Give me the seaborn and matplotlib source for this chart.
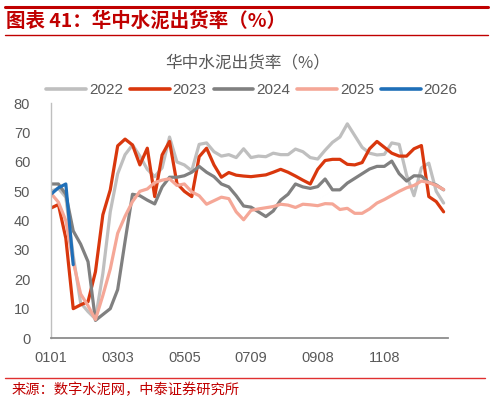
import numpy as np
import pandas as pd
import matplotlib
matplotlib.use("Agg")
import matplotlib.pyplot as plt
from matplotlib.lines import Line2D
import seaborn as sns

# ---------------- data ----------------
tick_labels = ["0101", "0303", "0505", "0709", "0908", "1108"]
years = ["2022", "2023", "2024", "2025", "2026"]

v2022 = [50, 51, 48, 28, 12, 9, 6.5, 22, 43, 56, 62.5, 65.8, 62, 57.5, 55, 58,
         68.5, 60, 59, 57, 66, 66.5, 63.5, 62, 62.5, 61.5, 64.5, 61.5, 62, 61.8,
         63, 62.5, 62.5, 64.4, 63.5, 61.5, 61, 64, 66.7, 68.5, 73, 69, 65, 63,
         62.4, 62.6, 66.5, 66, 55.5, 48.5, 58, 59.6, 50, 46]
v2023 = [44.3, 45.5, 34, 10, 11.3, 12.4, 22.6, 42, 50.5, 65.5, 67.8, 65.8, 59,
         64.7, 48.2, 62.4, 67, 52.7, 50, 48.2, 61.8, 64.7, 59, 54.8, 56.4, 55.5,
         55.2, 55, 55.3, 55.6, 56.5, 57.5, 56.5, 55.2, 53.8, 52.5, 57.5, 60.5,
         60.9, 60.9, 59.2, 59, 59.8, 64.5, 67, 65, 63, 62, 62, 64.5, 65.6, 48.2,
         46.5, 43]
v2024 = [52.5, 52.5, 49, 36.5, 32, 26, 6, 8, 10, 16.5, 33, 49, 48.5, 47, 45.7,
         51.5, 54.8, 54.8, 55.3, 56.5, 58.5, 56.5, 55, 52.5, 51.5, 48.5, 45,
         44.6, 43, 41.4, 43.3, 47, 49, 52.5, 51.5, 51, 51.6, 54.2, 50.5, 50.5,
         52.8, 54.4, 56, 57.6, 58.5, 58.5, 60.3, 56, 53.5, 55.3, 55.2, 53, 52.2,
         50.5]
v2025 = [49.3, 46.3, 40, 26, 15, 11, 6.3, 14.5, 23.5, 35.7, 41.5, 46.5, 50,
         50.8, 53, 53.8, 54.3, 52, 52.5, 49.8, 48.5, 45.6, 46.8, 48, 47.5, 43,
         40.3, 43.5, 44, 44.4, 44.8, 45.6, 45.3, 44.5, 45.6, 45.4, 45.1, 45.8,
         45.7, 43.8, 44.2, 42.5, 42.5, 44, 46, 47.2, 48.6, 50, 51.2, 52, 53.5,
         53, 52, 50.6]
v2026 = [49, 51.2, 52.5, 25]

series = [v2022, v2023, v2024, v2025, v2026]
colors = ["#bfbfbf", "#d9370d", "#808080", "#f5a797", "#1f6fb8"]

rows = []
for yr, vals in zip(years, series):
    for i, v in enumerate(vals):
        rows.append({"idx": i, "value": v, "year": yr})
df = pd.DataFrame(rows)

# ---------------- style ----------------
sns.set_style("white")
plt.rcParams["font.family"] = ["Liberation Sans", "Noto Sans CJK SC", "DejaVu Sans"]

fig = plt.figure(figsize=(4.93, 4.01), dpi=100)
ax = fig.add_axes([51 / 493, 1 - 338 / 401, (447.7 - 51) / 493, (338 - 103.3) / 401])

sns.lineplot(data=df, x="idx", y="value", hue="year", hue_order=years,
             palette=dict(zip(years, colors)), linewidth=2.3, ax=ax,
             legend=False, errorbar=None, sort=False)

ax.set_xlim(0, 53.55)
ax.set_ylim(0, 80)
ax.set_yticks(np.arange(0, 81, 10))
xt = np.arange(0, 50, 4.5)
ax.set_xticks(xt)
lab = []
for k in range(len(xt)):
    lab.append(tick_labels[k // 2] if k % 2 == 0 else "")
ax.set_xticklabels(lab)
ax.set_xlabel("")
ax.set_ylabel("")

for s in ["top", "right"]:
    ax.spines[s].set_visible(False)
ax.spines["left"].set_color("#bfbfbf")
ax.spines["left"].set_linewidth(1.0)
ax.spines["bottom"].set_color("#8c8c8c")
ax.spines["bottom"].set_linewidth(1.3)
ax.tick_params(axis="y", direction="out", length=3, width=1.0, color="#bfbfbf",
               pad=12, labelsize=10.5, labelcolor="#595959")
ax.tick_params(axis="x", direction="out", length=3, width=1.0, color="#8c8c8c",
               pad=6, labelsize=10.5, labelcolor="#595959")
ax.grid(False)

# legend
handles = [Line2D([0], [0], color=c, lw=2.6) for c in colors]
leg = fig.legend(handles, years, loc="center", bbox_to_anchor=(252 / 493, 1 - 90 / 401),
                 ncol=5, frameon=False, fontsize=11, handlelength=2.6,
                 handletextpad=0.2, columnspacing=0.45, borderpad=0)
for t in leg.get_texts():
    t.set_color("#595959")

# chart title
fig.text(248 / 493, 1 - 63 / 401, "华中水泥出货率（%）", ha="center", va="center",
         fontsize=12, color="#595959", family=["Noto Sans CJK SC", "DejaVu Sans"])

# report header
red = "#c00000"
fig.add_artist(Line2D([5 / 493, 488 / 493], [1 - 6.5 / 401, 1 - 6.5 / 401],
                      color=red, lw=2.2, transform=fig.transFigure))
fig.add_artist(Line2D([5 / 493, 488 / 493], [1 - 34.5 / 401, 1 - 34.5 / 401],
                      color=red, lw=1.0, transform=fig.transFigure))
fig.text(6 / 493, 1 - 21 / 401, "图表 41：华中水泥出货率（%）", ha="left", va="center",
         fontsize=14, fontweight="bold", color=red, style="italic",
         family=["Noto Sans CJK SC", "DejaVu Sans"])

# footer
fig.add_artist(Line2D([5 / 493, 485 / 493], [1 - 377.7 / 401, 1 - 377.7 / 401],
                      color="#e03030", lw=1.0, transform=fig.transFigure))
fig.text(12 / 493, 1 - 389.5 / 401, "来源：数字水泥网，中泰证券研究所", ha="left", va="center",
         fontsize=10.3, color=red, family=["Noto Sans CJK SC", "DejaVu Sans"])

fig.savefig("out.png", dpi=100)
